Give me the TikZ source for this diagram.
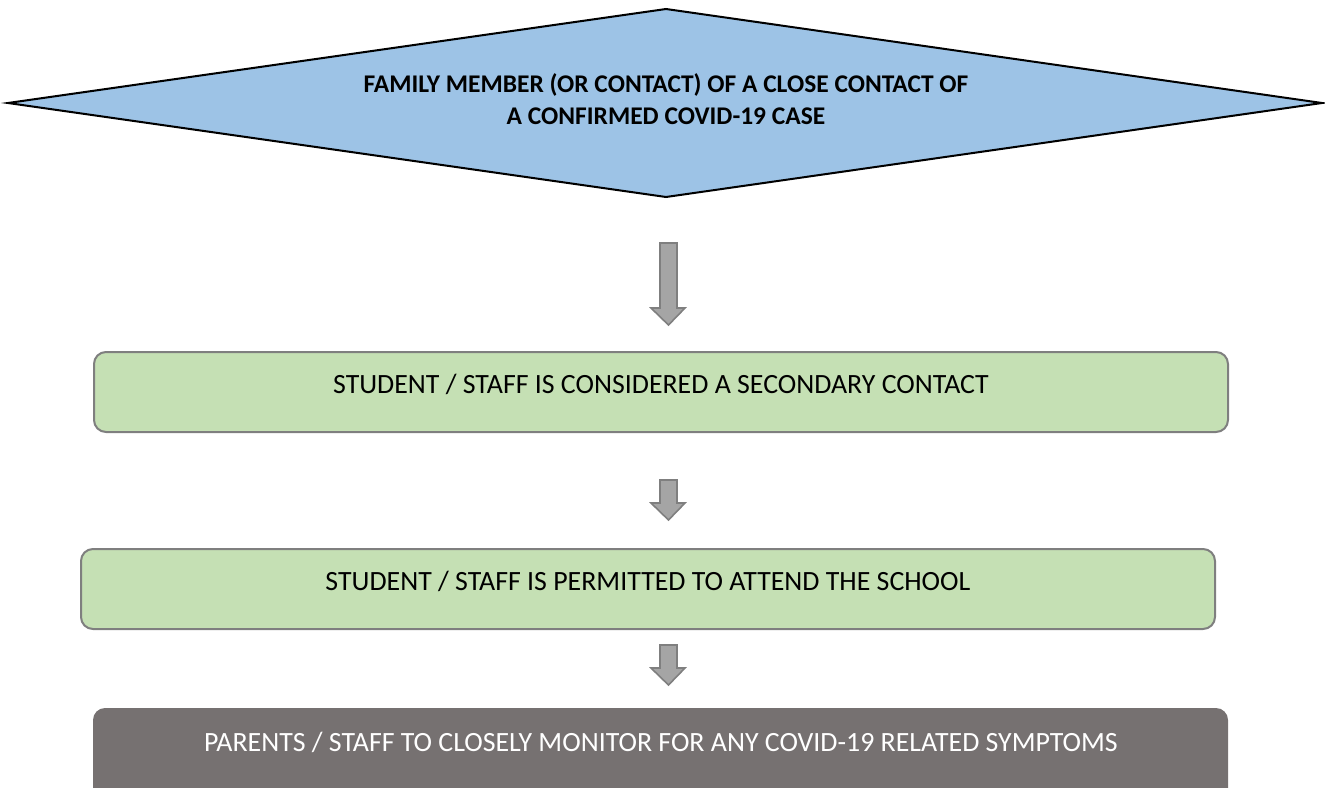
\documentclass[tikz,border=0pt]{standalone}
\usepackage{fontspec}
\setmainfont{Carlito}
\usetikzlibrary{shapes.arrows}
\definecolor{diafill}{HTML}{9DC3E6}
\definecolor{boxfill}{HTML}{C5E0B4}
\definecolor{boxdraw}{HTML}{7F7F7F}
\definecolor{darkbox}{HTML}{767171}
\definecolor{arrfill}{HTML}{A5A5A5}
\definecolor{arrdraw}{HTML}{7F7F7F}
\begin{document}
\begin{tikzpicture}[x=0.75pt,y=-0.75pt,
  greenbox/.style={draw=boxdraw,line width=1.5pt,fill=boxfill,rounded corners=9pt},
  darkstep/.style={fill=darkbox,rounded corners=9pt},
  boxtext/.style={font=\fontsize{20.9}{24}\selectfont,text=black},
  downarrow/.style={draw=arrdraw,fill=arrfill,line width=1.2pt,line join=miter}]
\useasboundingbox (0,0) rectangle (1325,788);
% diamond
\path[draw=black,line width=1.5pt,fill=diafill] (8,103) -- (666,9) -- (1322,103) -- (666,197) -- cycle;
\node[font=\bfseries\fontsize{19.1}{24}\selectfont,align=center] (top) at (666,99) {FAMILY MEMBER (OR CONTACT) OF A CLOSE CONTACT OF\\A CONFIRMED COVID-19 CASE};
% boxes
\path[greenbox] (94,352) rectangle (1228,432);
\node[boxtext] (b1) at (661,384) {STUDENT / STAFF IS CONSIDERED A SECONDARY CONTACT};
\path[greenbox] (81,549) rectangle (1215,629);
\node[boxtext] (b2) at (648,581) {STUDENT / STAFF IS PERMITTED TO ATTEND THE SCHOOL};
\path[darkstep] (93,708) rectangle (1228,800);
\node[boxtext,text=white] (b3) at (661,742) {PARENTS / STAFF TO CLOSELY MONITOR FOR ANY COVID-19 RELATED SYMPTOMS};
% arrows
\path[downarrow] (660,243) -- (677,243) -- (677,308) -- (685,308) -- (668.5,325) -- (651,308) -- (660,308) -- cycle;
\path[downarrow] (660,480) -- (677,480) -- (677,503) -- (685,503) -- (668.5,520) -- (651,503) -- (660,503) -- cycle;
\path[downarrow] (660,645) -- (677,645) -- (677,668) -- (685,668) -- (668.5,685) -- (651,668) -- (660,668) -- cycle;
\end{tikzpicture}
\end{document}
